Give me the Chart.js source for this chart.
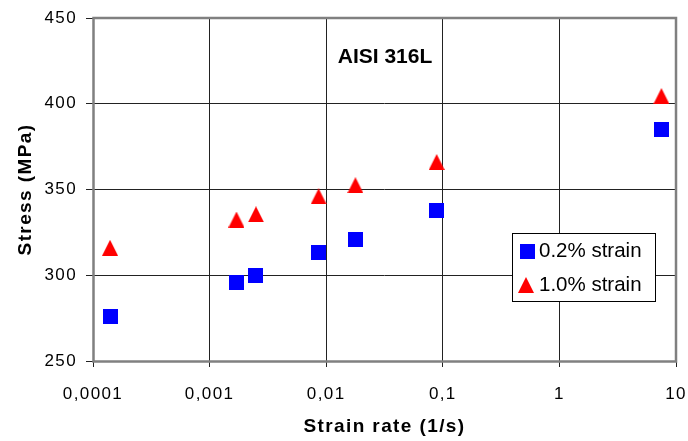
<!DOCTYPE html>
<html>
<head>
<meta charset="utf-8">
<script src="https://cdn.jsdelivr.net/npm/chart.js@4"></script>
<style>
  html, body { margin: 0; padding: 0; background: #fff; }
  #wrap { width: 688px; height: 441px; }
</style>
</head>
<body>
<div id="wrap"><canvas id="chart" width="688" height="441"></canvas></div>
<script>
// strain rate (1/s) of each test
const strainRate = [0.00014, 0.0017, 0.0025, 0.0086, 0.0178, 0.0886, 7.5];
// stress at 0.2% and 1.0% strain (MPa)
const stress02 = [276, 296, 300, 313, 321, 338, 385];
const stress10 = [316, 332.5, 335.5, 346, 352.5, 366, 404.5];
const xTicks = [0.0001, 0.001, 0.01, 0.1, 1, 10];
const yTicks = [250, 300, 350, 400, 450];
const seriesNames = ["0.2% strain", "1.0% strain"];

const FONT = '"Liberation Sans", Arial, sans-serif';

function marker(shape, color, w, h) {
    const c = document.createElement("canvas");
    c.width = w; c.height = h;
    const g = c.getContext("2d");
    g.fillStyle = color;
    if (shape === "tri") {
        g.beginPath();
        g.moveTo(w / 2, 0); g.lineTo(w, h); g.lineTo(0, h);
        g.closePath(); g.fill();
    } else {
        g.fillRect(0, 0, w, h);
    }
    return c;
}
const sq = marker("rect", "#0000ff", 15, 15);
const tri = marker("tri", "#ff0000", 16, 16);

const pts = ys => strainRate.map((x, i) => ({ x: x, y: ys[i] }));

// frame, title and legend box
const extras = {
    id: "extras",
    beforeDraw(chart) { chart.ctx.letterSpacing = "1.4px"; },
    beforeDatasetsDraw(chart) {
        const { ctx, chartArea: a } = chart;
        ctx.save();
        ctx.strokeStyle = "#808080";
        ctx.lineWidth = 2.5;
        ctx.strokeRect(a.left + 0.5, a.top, a.right - a.left - 0.5, a.bottom - a.top + 0.5);
        ctx.restore();
    },
    afterDraw(chart) {
        const ctx = chart.ctx;
        ctx.save();
        ctx.letterSpacing = "0px";
        ctx.fillStyle = "#000";
        ctx.font = "bold 21px " + FONT;
        ctx.textAlign = "center";
        ctx.textBaseline = "alphabetic";
        ctx.fillText("AISI 316L", 385, 63);

        ctx.fillStyle = "#fff";
        ctx.fillRect(512, 233, 143, 68);
        ctx.strokeStyle = "#000";
        ctx.lineWidth = 1;
        ctx.strokeRect(512.5, 233.5, 143, 68);
        ctx.drawImage(sq, 520, 244);
        ctx.drawImage(tri, 518, 277);
        ctx.fillStyle = "#000";
        ctx.font = "20.5px " + FONT;
        ctx.textAlign = "left";
        ctx.fillText(seriesNames[0], 539, 257);
        ctx.fillText(seriesNames[1], 539, 291);
        ctx.restore();
    }
};

new Chart(document.getElementById("chart"), {
    type: "scatter",
    data: {
        datasets: [
            { label: seriesNames[0], data: pts(stress02), pointStyle: sq, pointRadius: 8 },
            { label: seriesNames[1], data: pts(stress10), pointStyle: tri, pointRadius: 8 },
        ],
    },
    options: {
        responsive: false, animation: false, devicePixelRatio: 1,
        layout: { padding: { top: 18, right: 12, left: 0, bottom: 0 } },
        plugins: { legend: { display: false }, tooltip: { enabled: false } },
        scales: {
            x: {
                type: "logarithmic", min: 0.0001, max: 10,
                afterBuildTicks: s => { s.ticks = xTicks.map(v => ({ value: v })); },
                afterFit: s => { s.height = 80; s.paddingLeft = 0; s.paddingRight = 0; },
                grid: { color: "#222", lineWidth: 1, tickLength: 6 },
                border: { display: false },
                ticks: {
                    color: "#000", padding: 17, maxRotation: 0, autoSkip: false,
                    font: { family: FONT, size: 17 },
                    callback: v => String(v).replace(".", ","),
                },
                title: {
                    display: true, text: "Strain rate (1/s)", color: "#000",
                    font: { family: FONT, size: 19, weight: "bold" },
                    padding: { top: 0, bottom: 3 },
                },
            },
            y: {
                min: 250, max: 450,
                afterBuildTicks: s => { s.ticks = yTicks.map(v => ({ value: v })); },
                afterFit: s => { s.width = 93; s.paddingTop = 0; s.paddingBottom = 0; },
                grid: { color: "#222", lineWidth: 1, tickLength: 7 },
                border: { display: false },
                ticks: { color: "#000", padding: 9, font: { family: FONT, size: 17 } },
                title: {
                    display: true, text: "Stress (MPa)", color: "#000",
                    font: { family: FONT, size: 19, weight: "bold" },
                    padding: { top: 14, bottom: 0 },
                },
            },
        },
    },
    plugins: [extras],
});
</script>
</body>
</html>
